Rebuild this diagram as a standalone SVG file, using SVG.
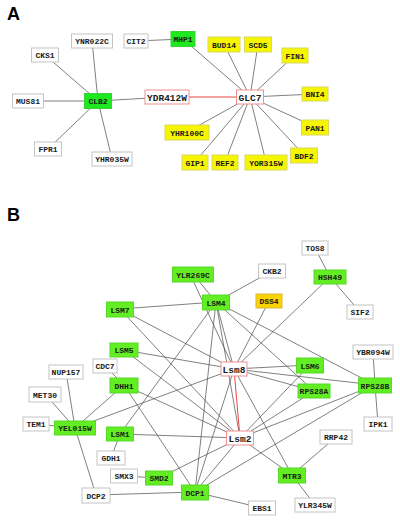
<svg xmlns="http://www.w3.org/2000/svg" width="400" height="520" viewBox="0 0 400 520">
<style>
.bg{fill:#fff}
.e{stroke:#555;stroke-width:0.75;fill:none}
.r{stroke:#e8302e;stroke-width:0.9;fill:none}
.w rect{fill:#fff;stroke:#c4c4c4;stroke-width:1}
.ga rect{fill:#1ee81e;stroke:#3ad23a;stroke-width:1}
.g rect{fill:#62ee22;stroke:#58d828;stroke-width:1}
.y rect{fill:#f6f600;stroke:#d8d860;stroke-width:1}
.o rect{fill:#f8d400;stroke:#d8b840;stroke-width:1}
.p rect{fill:#fff;stroke:#f09090;stroke-width:1}
text{font-family:"Liberation Mono","DejaVu Sans Mono",monospace;font-weight:bold;font-size:8px;fill:#1a1a1a;text-anchor:middle}
.p text{font-size:9.5px}
.lab{font-family:"Liberation Sans",Arial,sans-serif;font-size:18px;text-anchor:start;fill:#000}
</style>
<rect class="bg" x="0" y="0" width="400" height="520"/>
<text class="lab" x="7" y="20">A</text>
<text class="lab" x="7" y="221">B</text>

<g id="connectors">
<!-- Panel A -->
<line class="e" x1="98" y1="101" x2="45" y2="55"/>
<line class="e" x1="98" y1="101" x2="92" y2="41"/>
<line class="e" x1="98" y1="101" x2="28" y2="101"/>
<line class="e" x1="98" y1="101" x2="48" y2="149"/>
<line class="e" x1="98" y1="101" x2="112" y2="159"/>
<line class="e" x1="98" y1="101" x2="167" y2="97"/>
<line class="r" x1="167" y1="97" x2="250" y2="97"/>
<line class="e" x1="136" y1="41" x2="183" y2="39"/>
<line class="e" x1="183" y1="39" x2="250" y2="97"/>
<line class="e" x1="250" y1="97" x2="224" y2="44"/>
<line class="e" x1="250" y1="97" x2="258" y2="44"/>
<line class="e" x1="250" y1="97" x2="295" y2="55"/>
<line class="e" x1="250" y1="97" x2="315" y2="94"/>
<line class="e" x1="250" y1="97" x2="315" y2="127"/>
<line class="e" x1="250" y1="97" x2="304" y2="155"/>
<line class="e" x1="250" y1="97" x2="266" y2="162"/>
<line class="e" x1="250" y1="97" x2="225" y2="162"/>
<line class="e" x1="250" y1="97" x2="195" y2="162"/>
<line class="e" x1="250" y1="97" x2="187" y2="132"/>
<!-- Panel B -->
<line class="e" x1="315" y1="248" x2="330" y2="277"/>
<line class="e" x1="330" y1="277" x2="360" y2="312"/>
<line class="e" x1="330" y1="277" x2="234" y2="369"/>
<line class="e" x1="272" y1="271" x2="216" y2="302"/>
<line class="e" x1="193" y1="274" x2="216" y2="302"/>
<line class="e" x1="190" y1="274" x2="234" y2="369"/>
<line class="e" x1="120" y1="309" x2="216" y2="302"/>
<line class="e" x1="120" y1="309" x2="234" y2="369"/>
<line class="e" x1="120" y1="309" x2="240" y2="438"/>
<line class="e" x1="216" y1="302" x2="234" y2="369"/>
<line class="e" x1="216" y1="302" x2="240" y2="438"/>
<line class="e" x1="216" y1="302" x2="195" y2="492"/>
<line class="e" x1="216" y1="302" x2="120" y2="434"/>
<line class="e" x1="216" y1="302" x2="314" y2="391"/>
<line class="e" x1="216" y1="302" x2="375" y2="385"/>
<line class="e" x1="269" y1="301" x2="234" y2="369"/>
<line class="e" x1="124" y1="350" x2="234" y2="369"/>
<line class="e" x1="124" y1="350" x2="240" y2="438"/>
<line class="e" x1="105" y1="366" x2="124" y2="385"/>
<line class="e" x1="124" y1="385" x2="75" y2="428"/>
<line class="e" x1="124" y1="385" x2="240" y2="438"/>
<line class="e" x1="124" y1="385" x2="195" y2="492"/>
<line class="e" x1="66" y1="372" x2="75" y2="428"/>
<line class="e" x1="45" y1="394" x2="75" y2="428"/>
<line class="e" x1="36" y1="424" x2="75" y2="428"/>
<line class="e" x1="75" y1="428" x2="96" y2="495"/>
<line class="e" x1="75" y1="428" x2="234" y2="369"/>
<line class="e" x1="120" y1="434" x2="111" y2="458"/>
<line class="e" x1="120" y1="434" x2="240" y2="438"/>
<line class="e" x1="124" y1="476" x2="159" y2="478"/>
<line class="e" x1="159" y1="478" x2="240" y2="438"/>
<line class="e" x1="96" y1="495" x2="195" y2="492"/>
<line class="e" x1="195" y1="492" x2="262" y2="508"/>
<line class="e" x1="195" y1="492" x2="234" y2="369"/>
<line class="e" x1="195" y1="492" x2="240" y2="438"/>
<line class="e" x1="195" y1="492" x2="375" y2="385"/>
<line class="r" x1="234" y1="369" x2="240" y2="438"/>
<line class="e" x1="234" y1="369" x2="310" y2="365"/>
<line class="e" x1="234" y1="369" x2="314" y2="391"/>
<line class="e" x1="234" y1="369" x2="375" y2="385"/>
<line class="e" x1="234" y1="369" x2="292" y2="475"/>
<line class="e" x1="240" y1="438" x2="310" y2="365"/>
<line class="e" x1="240" y1="438" x2="314" y2="391"/>
<line class="e" x1="240" y1="438" x2="375" y2="385"/>
<line class="e" x1="240" y1="438" x2="292" y2="475"/>
<line class="e" x1="373" y1="352" x2="375" y2="385"/>
<line class="e" x1="375" y1="385" x2="378" y2="424"/>
<line class="e" x1="336" y1="437" x2="292" y2="475"/>
<line class="e" x1="292" y1="475" x2="315" y2="505"/>
</g>

<!-- Panel A nodes -->
<g id="YNR022C" class="w"><rect x="71.5" y="34" width="41" height="14"/><text x="92" y="44">YNR022C</text></g>
<g id="CIT2" class="w"><rect x="124" y="34" width="24" height="14"/><text x="136" y="44">CIT2</text></g>
<g id="MHP1" class="ga"><rect x="171" y="31.5" width="24" height="15"/><text x="183" y="42">MHP1</text></g>
<g id="CKS1" class="w"><rect x="31.5" y="48" width="27" height="14"/><text x="45" y="58">CKS1</text></g>
<g id="CLB2" class="ga"><rect x="84.5" y="93.5" width="27" height="15"/><text x="98" y="104">CLB2</text></g>
<g id="MUS81" class="w"><rect x="12.5" y="94" width="31" height="14"/><text x="28" y="104">MUS81</text></g>
<g id="YDR412W" class="p"><rect x="145" y="90" width="44" height="14"/><text x="167" y="100.5">YDR412W</text></g>
<g id="FPR1" class="w"><rect x="34.5" y="142" width="27" height="14"/><text x="48" y="152">FPR1</text></g>
<g id="YHR035W" class="w"><rect x="92" y="152" width="40" height="14"/><text x="112" y="162">YHR035W</text></g>
<g id="GLC7" class="p"><rect x="236.5" y="90" width="27" height="14"/><text x="250" y="100.5">GLC7</text></g>
<g id="BUD14" class="y"><rect x="208" y="37" width="32" height="15"/><text x="224" y="47.5">BUD14</text></g>
<g id="SCD5" class="y"><rect x="244.5" y="37" width="27" height="15"/><text x="258" y="47.5">SCD5</text></g>
<g id="FIN1" class="y"><rect x="282" y="48" width="26" height="15"/><text x="295" y="58.5">FIN1</text></g>
<g id="BNI4" class="y"><rect x="302" y="87" width="26" height="14"/><text x="315" y="97">BNI4</text></g>
<g id="PAN1" class="y"><rect x="301.5" y="120" width="27" height="15"/><text x="315" y="130.5">PAN1</text></g>
<g id="BDF2" class="y"><rect x="290.5" y="148" width="27" height="15"/><text x="304" y="158.5">BDF2</text></g>
<g id="YOR315W" class="y"><rect x="245" y="155" width="42" height="15"/><text x="266" y="165.5">YOR315W</text></g>
<g id="REF2" class="y"><rect x="212" y="155" width="26" height="15"/><text x="225" y="165.5">REF2</text></g>
<g id="GIP1" class="y"><rect x="182" y="155" width="26" height="15"/><text x="195" y="165.5">GIP1</text></g>
<g id="YHR100C" class="y"><rect x="165" y="125" width="44" height="15"/><text x="187" y="135.5">YHR100C</text></g>

<!-- Panel B nodes -->
<g id="TOS8" class="w"><rect x="302" y="241" width="26" height="14"/><text x="315" y="251">TOS8</text></g>
<g id="HSH49" class="g"><rect x="314" y="270" width="32" height="14"/><text x="330" y="280">HSH49</text></g>
<g id="SIF2" class="w"><rect x="347" y="305" width="26" height="14"/><text x="360" y="315">SIF2</text></g>
<g id="CKB2" class="w"><rect x="258.5" y="264" width="27" height="14"/><text x="272" y="274">CKB2</text></g>
<g id="DSS4" class="o"><rect x="256" y="294" width="26" height="14"/><text x="269" y="304">DSS4</text></g>
<g id="YLR269C" class="g"><rect x="172.5" y="267" width="41" height="15"/><text x="193" y="277.5">YLR269C</text></g>
<g id="LSM4" class="g"><rect x="202.5" y="295" width="27" height="15"/><text x="216" y="305.5">LSM4</text></g>
<g id="LSM7" class="g"><rect x="106.5" y="302" width="27" height="15"/><text x="120" y="312.5">LSM7</text></g>
<g id="LSM5" class="g"><rect x="110" y="343" width="28" height="14"/><text x="124" y="353">LSM5</text></g>
<g id="CDC7" class="w"><rect x="93" y="359" width="24" height="14"/><text x="105" y="369">CDC7</text></g>
<g id="NUP157" class="w"><rect x="49" y="365" width="34" height="14"/><text x="66" y="375">NUP157</text></g>
<g id="DHH1" class="g"><rect x="110" y="378" width="28" height="15"/><text x="124" y="388.5">DHH1</text></g>
<g id="MET30" class="w"><rect x="29" y="387" width="32" height="15"/><text x="45" y="397.5">MET30</text></g>
<g id="TEM1" class="w"><rect x="23" y="417" width="26" height="14"/><text x="36" y="427">TEM1</text></g>
<g id="YEL015W" class="g"><rect x="54.5" y="421" width="41" height="14"/><text x="75" y="431">YEL015W</text></g>
<g id="LSM1" class="g"><rect x="106.5" y="427" width="27" height="14"/><text x="120" y="437">LSM1</text></g>
<g id="GDH1" class="w"><rect x="97" y="451" width="28" height="14"/><text x="111" y="461">GDH1</text></g>
<g id="SMX3" class="w"><rect x="110.5" y="469" width="27" height="14"/><text x="124" y="479">SMX3</text></g>
<g id="SMD2" class="g"><rect x="145.5" y="471" width="27" height="14"/><text x="159" y="481">SMD2</text></g>
<g id="DCP2" class="w"><rect x="82" y="488" width="28" height="15"/><text x="96" y="498.5">DCP2</text></g>
<g id="DCP1" class="g"><rect x="181.5" y="485" width="27" height="15"/><text x="195" y="495.5">DCP1</text></g>
<g id="Lsm8" class="p"><rect x="221" y="362" width="26" height="14"/><text x="234" y="372.5">Lsm8</text></g>
<g id="Lsm2" class="p"><rect x="226.5" y="431" width="27" height="14"/><text x="240" y="441.5">Lsm2</text></g>
<g id="LSM6" class="g"><rect x="296.5" y="358" width="27" height="15"/><text x="310" y="368.5">LSM6</text></g>
<g id="RPS28A" class="g"><rect x="298" y="384" width="32" height="14"/><text x="314" y="394">RPS28A</text></g>
<g id="YBR094W" class="w"><rect x="353" y="345" width="40" height="14"/><text x="373" y="355">YBR094W</text></g>
<g id="RPS28B" class="g"><rect x="358.5" y="378" width="33" height="15"/><text x="375" y="388.5">RPS28B</text></g>
<g id="IPK1" class="w"><rect x="364" y="417" width="28" height="14"/><text x="378" y="427">IPK1</text></g>
<g id="RRP42" class="w"><rect x="320" y="430" width="32" height="14"/><text x="336" y="440">RRP42</text></g>
<g id="MTR3" class="g"><rect x="278.5" y="468" width="27" height="15"/><text x="292" y="478.5">MTR3</text></g>
<g id="YLR345W" class="w"><rect x="295" y="498" width="40" height="14"/><text x="315" y="508">YLR345W</text></g>
<g id="EBS1" class="w"><rect x="248.5" y="501" width="27" height="14"/><text x="262" y="511">EBS1</text></g>
</svg>
